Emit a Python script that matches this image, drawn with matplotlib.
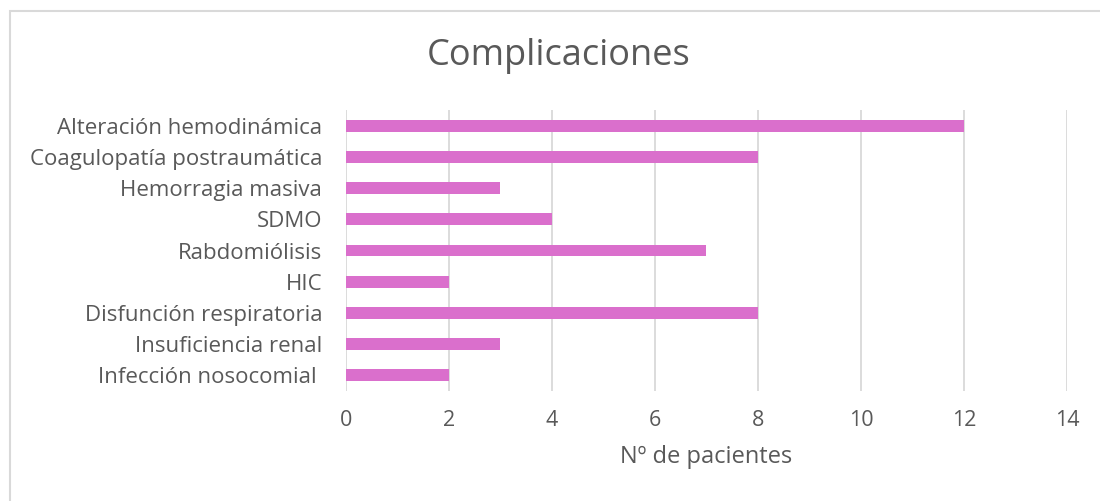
import matplotlib.pyplot as plt
from matplotlib.patches import Rectangle

categorias = [
    "Alteración hemodinámica",
    "Coagulopatía postraumática",
    "Hemorragia masiva",
    "SDMO",
    "Rabdomiólisis",
    "HIC",
    "Disfunción respiratoria",
    "Insuficiencia renal",
    "Infección nosocomial ",
]
pacientes = [12, 8, 3, 4, 7, 2, 8, 3, 2]
xticks = [0, 2, 4, 6, 8, 10, 12, 14]

text_color = "#595959"
plt.rcParams['font.family'] = ['Open Sans', 'DejaVu Sans']

fig = plt.figure(figsize=(11, 5.01), dpi=100)
ax = fig.add_axes([0.3145, 0.2196, 0.6555, 0.5608])

# draw first category on top
y = list(range(len(categorias)))[::-1]
ax.barh(y, pacientes, height=0.38, color="#DA6FCC", zorder=3)

ax.set_xlim(0, 14)
ax.set_ylim(-0.5, len(categorias) - 0.5)
ax.set_xticks(xticks)
ax.set_xticklabels([str(t) for t in xticks], fontsize=15.5, color=text_color)
ax.set_yticks(y)
ax.set_yticklabels(categorias, fontsize=16, color=text_color)
ax.tick_params(axis="both", length=0)
ax.tick_params(axis="x", pad=14)
ax.tick_params(axis="y", pad=17)
ax.grid(axis="x", color="#D9D9D9", linewidth=1.3, zorder=0)
for s in ax.spines.values():
    s.set_visible(False)

ax.set_xlabel("Nº de pacientes", fontsize=17, color=text_color, labelpad=10)
fig.text(0.508, 0.888, "Complicaciones", ha="center", va="center",
         fontsize=26, color=text_color)

# chart area border like the spreadsheet
fig.patches.append(Rectangle((10 / 1100, -0.02), 1.0, 1 - 11 / 501 + 0.02,
                             transform=fig.transFigure, fill=False,
                             edgecolor="#D9D9D9", linewidth=1.5))

fig.savefig("out.png", dpi=100)
